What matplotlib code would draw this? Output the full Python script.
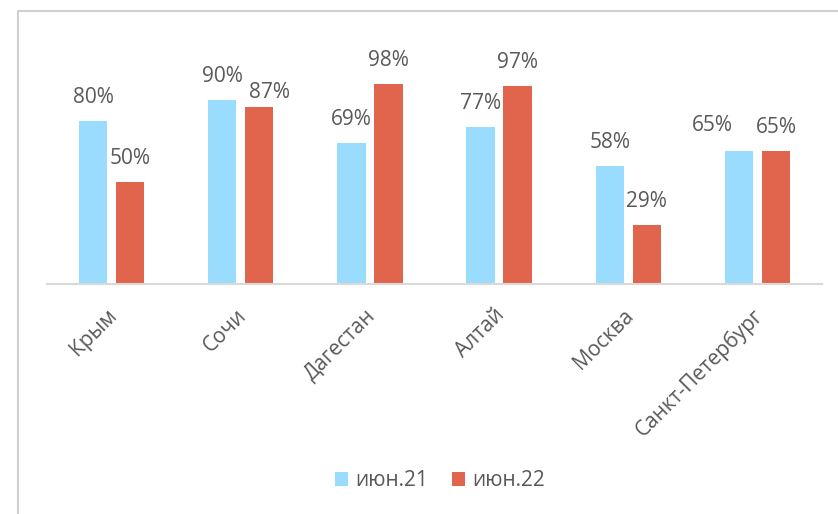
import matplotlib.pyplot as plt
import numpy as np
from matplotlib.lines import Line2D
from matplotlib.transforms import ScaledTranslation

plt.rcParams['font.family'] = ['Open Sans', 'DejaVu Sans']

# data
regions = ['Крым', 'Сочи', 'Дагестан', 'Алтай', 'Москва', 'Санкт-Петербург']
jun21 = [80, 90, 69, 77, 58, 65]
jun22 = [50, 87, 98, 97, 29, 65]
series_names = ['июн.21', 'июн.22']

BLUE = '#9ADCFE'
RED = '#E0654C'
TXT = '#595959'
GRID = '#D9D9D9'

W, H = 838, 514
fig = plt.figure(figsize=(W / 100, H / 100), dpi=100)

# axes placed in pixel terms: baseline y=284, x from 47 to 822, 2.04 px per %
ymax = 120
ax_left, ax_right, ax_base = 47, 822, 284
ax_h = ymax * 2.04
ax = fig.add_axes([ax_left / W, (H - ax_base) / H, (ax_right - ax_left) / W, ax_h / H])

x = np.arange(len(regions))
bw = 0.22
off = 0.143
b1 = ax.bar(x - off, jun21, bw, color=BLUE, label=series_names[0], zorder=2)
b2 = ax.bar(x + off, jun22, bw, color=RED, label=series_names[1], zorder=2)

# data labels (some were nudged by hand in the original)
nudge21 = {5: (-19.4, 15)}
nudge22 = {1: (7.2, 5.8)}
for i, v in enumerate(jun21):
    dx, dy = nudge21.get(i, (0, 13))
    ax.annotate(f'{v}%', (x[i] - off, v), xytext=(dx, dy), textcoords='offset points',
                ha='center', va='baseline', fontsize=15, color=TXT)
for i, v in enumerate(jun22):
    dx, dy = nudge22.get(i, (0, 13))
    ax.annotate(f'{v}%', (x[i] + off, v), xytext=(dx, dy), textcoords='offset points',
                ha='center', va='baseline', fontsize=15, color=TXT)

ax.set_xlim(-0.5, len(regions) - 0.5)
ax.set_ylim(0, ymax)
ax.set_yticks([])
ax.set_xticks(x)
ax.set_xticklabels(regions, rotation=45, ha='right', va='top', rotation_mode='anchor',
                   fontsize=15, color=TXT)
ax.tick_params(axis='x', length=0, pad=15)
shift = ScaledTranslation(-0.05, 0, fig.dpi_scale_trans)
for lbl in ax.get_xticklabels():
    lbl.set_transform(lbl.get_transform() + shift)
for s in ['top', 'right', 'left']:
    ax.spines[s].set_visible(False)
ax.spines['bottom'].set_color(GRID)
ax.spines['bottom'].set_linewidth(1.5)
ax.patch.set_alpha(0)

leg = fig.legend(handles=[b1, b2], labels=series_names, loc='center',
                 bbox_to_anchor=(440 / W, 1 - 481 / H), ncol=2, frameon=False,
                 fontsize=15, handlelength=0.65, handleheight=0.65,
                 handletextpad=0.35, columnspacing=1.1, labelcolor=TXT)

# chart-area border (only left and top edges fall inside the picture)
fig.add_artist(Line2D([17.5 / W, 17.5 / W, 1.0], [0.0, 1 - 10.5 / H, 1 - 10.5 / H],
                      transform=fig.transFigure, color='#D0D0D0', linewidth=1.5))

fig.savefig('out.png', dpi=100)
